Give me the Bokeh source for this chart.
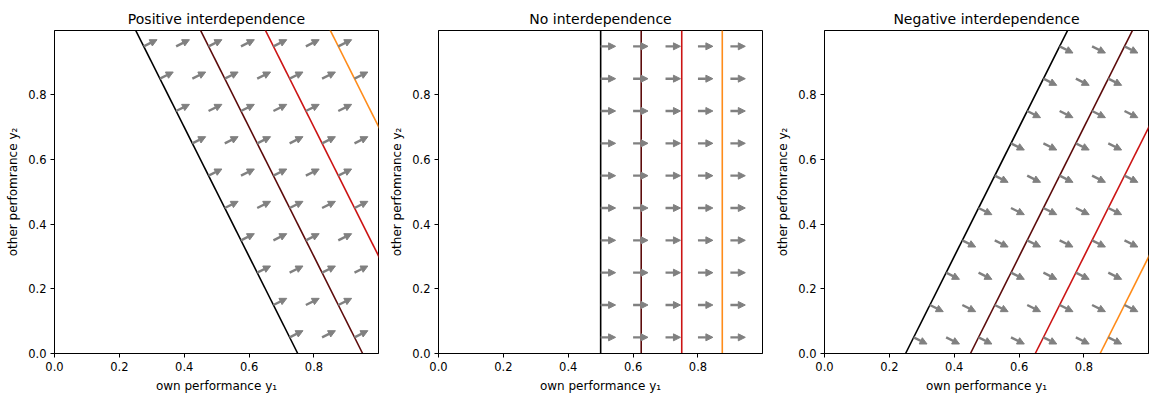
import numpy as np
from bokeh.plotting import figure
from bokeh.models import Range1d, FixedTicker, PrintfTickFormatter, Arrow, NormalHead, ColumnDataSource
from bokeh.layouts import row
from bokeh.embed import file_html
from bokeh.resources import INLINE

# ---------------- data ----------------
titles = ["Positive interdependence", "No interdependence", "Negative interdependence"]
# weight of own (y1) and other (y2) performance in each panel's objective
w_own = [1.0, 1.0, 1.0]
w_other = [0.5, 0.0, -0.5]
# contour levels of w_own*y1 + w_other*y2 drawn in each panel
pos_levels = [0.75, 0.95, 1.15, 1.35]
none_levels = [0.5, 0.625, 0.75, 0.875]
neg_levels = [0.25, 0.45, 0.65, 0.85]
panel_levels = [pos_levels, none_levels, neg_levels]
level_colors = ["#000000", "#5c0b0b", "#cc1414", "#ff8c1a"]
# rows of the gradient arrows (other performance y2)
arrow_rows = [0.05, 0.15, 0.25, 0.35, 0.45, 0.55, 0.65, 0.75, 0.85, 0.95]
arrow_step = 0.1
arrow_xmax = 0.95
arrow_len = 0.046
x_ticks = [0.0, 0.2, 0.4, 0.6, 0.8]
y_ticks = [0.0, 0.2, 0.4, 0.6, 0.8]
x_label = "own performance y\u2081"
y_label = "other perfomrance y\u2082"

FONT = "DejaVu Sans"
GREY = "#808080"


def make_panel(i, left, right):
    levels = panel_levels[i]
    a, b = w_own[i], w_other[i]
    p = figure(frame_width=324, frame_height=323,
               x_range=Range1d(0, 0.999), y_range=Range1d(0, 0.999),
               output_backend="svg", toolbar_location=None,
               min_border_left=left, min_border_right=right,
               min_border_top=30, min_border_bottom=41,
               title=titles[i])
    p.title.align = "center"
    p.title.text_font = FONT
    p.title.text_font_size = "14px"
    p.title.text_font_style = "normal"
    p.title.text_color = "black"
    p.title.standoff = 8
    p.grid.visible = False
    p.outline_line_color = "black"
    p.outline_line_alpha = 1
    p.outline_line_width = 1

    for ax, ticks, lab in ((p.xaxis[0], x_ticks, x_label), (p.yaxis[0], y_ticks, y_label)):
        ax.ticker = FixedTicker(ticks=ticks)
        ax.formatter = PrintfTickFormatter(format="%.1f")
        ax.axis_label = lab
        ax.axis_label_text_font = FONT
        ax.axis_label_text_font_size = "12px"
        ax.axis_label_text_font_style = "normal"
        ax.axis_label_text_color = "black"
        ax.major_label_text_font = FONT
        ax.major_label_text_font_size = "11.5px"
        ax.major_label_text_color = "black"
        ax.major_tick_out = 4
        ax.major_tick_in = 0
        ax.minor_tick_line_color = None
        ax.axis_line_color = "black"
        ax.major_tick_line_color = "black"
        ax.major_label_standoff = 4
        ax.axis_label_standoff = 5

    # contour lines
    y2 = np.array([0.0, 1.0])
    for c, col in zip(levels, level_colors):
        y1 = (c - b * y2) / a
        p.line(y1, y2, line_color=col, line_width=1.6)

    # gradient arrows, starting on the lowest level line
    norm = np.hypot(a, b)
    dx, dy = a / norm * arrow_len, b / norm * arrow_len
    xs, ys = [], []
    for yv in arrow_rows:
        x0 = (levels[0] - b * yv) / a
        k = 0
        while x0 + k * arrow_step <= arrow_xmax + 1e-9:
            xs.append(x0 + k * arrow_step)
            ys.append(yv)
            k += 1
    xs = np.array(xs)
    ys = np.array(ys)
    src = ColumnDataSource(dict(x0=xs, y0=ys, x1=xs + dx, y1=ys + dy))
    p.add_layout(Arrow(source=src, x_start="x0", y_start="y0", x_end="x1", y_end="y1",
                       line_color=GREY, line_width=2.4,
                       end=NormalHead(size=7, fill_color=GREY, line_color=GREY, line_width=1)))
    return p


p1 = make_panel(0, 54, 9)
p2 = make_panel(1, 46, 11)
p3 = make_panel(2, 46, 6)
layout = row(p1, p2, p3)

open("out.html", "w").write(file_html(layout, INLINE))
